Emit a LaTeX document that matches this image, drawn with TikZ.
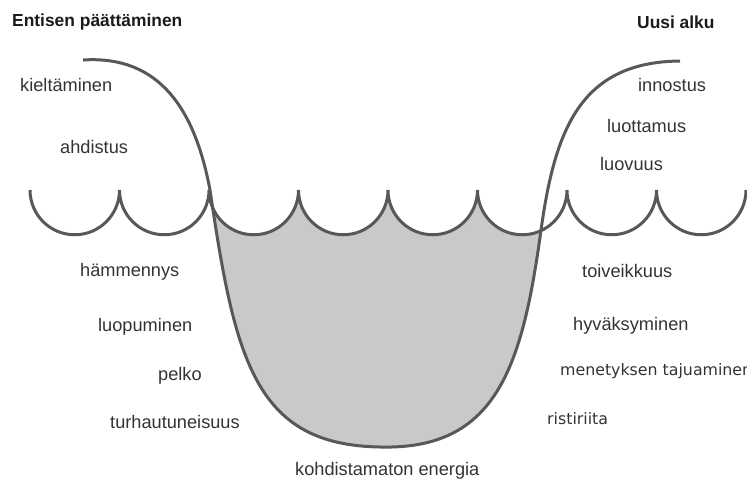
\documentclass[tikz,border=0pt]{standalone}
\usepackage{fontspec}
\setmainfont{Liberation Sans}
\newfontfamily\verdanaish{DejaVu Sans}
\definecolor{linegray}{HTML}{585858}
\definecolor{fillgray}{HTML}{C9C9C9}
\definecolor{textgray}{HTML}{333333}
\definecolor{titlegray}{HTML}{1A1A1A}
\begin{document}
\begin{tikzpicture}[x=1pt,y=1pt,
  lbl/.style={anchor=west,inner sep=0pt,text=textgray,font=\fontsize{18.2}{21}\selectfont},
  lblv/.style={anchor=west,inner sep=0pt,text=textgray,font=\verdanaish\fontsize{15.8}{19}\selectfont},
  ttl/.style={anchor=west,inner sep=0pt,text=titlegray,font=\bfseries\fontsize{17.4}{20}\selectfont},
  wave/.style={draw=linegray,line width=3pt},
  bigcurve/.style={draw=linegray,line width=3pt}]
\useasboundingbox (0,0) rectangle (747,-485);
% fill of the pit, clipped below the scallops
\begin{scope}
  \clip (30,-190) arc[start angle=180,end angle=360,radius=44.75]
        arc[start angle=180,end angle=360,radius=44.75]
        arc[start angle=180,end angle=360,radius=44.75]
        arc[start angle=180,end angle=360,radius=44.75]
        arc[start angle=180,end angle=360,radius=44.75]
        arc[start angle=180,end angle=360,radius=44.75]
        arc[start angle=180,end angle=360,radius=44.75]
        arc[start angle=180,end angle=360,radius=44.75]
        -- (746,-490) -- (30,-490) -- cycle;
  \fill[fillgray] (210,-190) .. controls (235,-360) and (255,-445) .. (380,-447)
        .. controls (495,-450) and (522,-370) .. (541,-230)
        -- (541,-150) -- (210,-150) -- cycle;
\end{scope}
% scallops
\draw[wave] (30,-190) arc[start angle=180,end angle=360,radius=44.75]
        arc[start angle=180,end angle=360,radius=44.75]
        arc[start angle=180,end angle=360,radius=44.75]
        arc[start angle=180,end angle=360,radius=44.75]
        arc[start angle=180,end angle=360,radius=44.75]
        arc[start angle=180,end angle=360,radius=44.75]
        arc[start angle=180,end angle=360,radius=44.75]
        arc[start angle=180,end angle=360,radius=44.75];
% big curve
\draw[bigcurve] (83,-60) .. controls (160,-55) and (195,-110) .. (210,-190)
        .. controls (235,-360) and (255,-445) .. (380,-447)
        .. controls (495,-450) and (522,-370) .. (541,-230)
        .. controls (555,-130) and (580,-62) .. (680,-61);
% titles
\node[ttl] (t1) at (12,-22) {Entisen päättäminen};
\node[ttl] (t2) at (637,-22) {Uusi alku};
% left labels
\node[lbl] (l1) at (20,-85) {kieltäminen};
\node[lbl] (l2) at (60,-147) {ahdistus};
\node[lbl] (l3) at (80,-272) {hämmennys};
\node[lbl] (l4) at (98,-327) {luopuminen};
\node[lbl] (l5) at (158,-376) {pelko};
\node[lbl] (l6) at (110,-422) {turhautuneisuus};
\node[lbl] (c1) at (295,-471) {kohdistamaton energia};
% right labels
\node[lbl] (r1) at (638,-85) {innostus};
\node[lbl] (r2) at (607,-126) {luottamus};
\node[lbl] (r3) at (600,-164) {luovuus};
\node[lbl] (r4) at (582,-271) {toiveikkuus};
\node[lbl] (r5) at (573,-326) {hyväksyminen};
\node[lblv] (r6) at (560,-371) {menetyksen tajuaminen};
\node[lblv] (r7) at (547,-419) {ristiriita};
\end{tikzpicture}
\end{document}
